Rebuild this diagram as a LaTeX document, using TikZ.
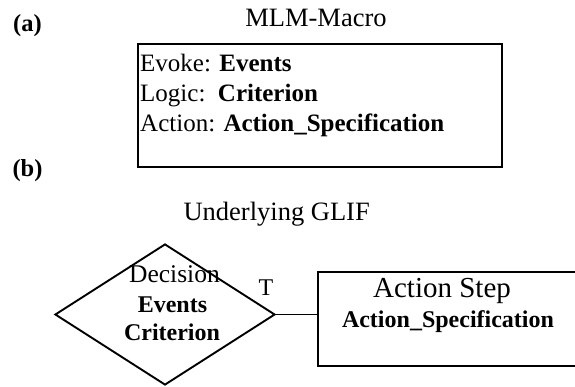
\documentclass[tikz,border=0pt]{standalone}
\usepackage{fontspec}
\setmainfont{Liberation Serif}
\usetikzlibrary{shapes.geometric}

\tikzset{
  frame/.style={draw=black, line width=1.9pt},
  txt/.style={inner sep=0pt, anchor=base, font=\fontsize{26.5}{30}\selectfont},
  boxtxt/.style={inner sep=0pt, anchor=base west, font=\fontsize{25}{30}\selectfont},
  boldtxt/.style={inner sep=0pt, anchor=base, font=\fontsize{24}{28}\selectfont\bfseries},
  lbl/.style={inner sep=0pt, anchor=base, font=\fontsize{24.5}{28}\selectfont\bfseries},
  link/.style={draw=black, line width=1.9pt}
}

\begin{document}
\begin{tikzpicture}[x=1pt, y=-1pt]
  \clip (0,0) rectangle (575,387);
  \fill[white] (0,0) rectangle (575,387);

  % panel labels
  \node[lbl] (pa) at (27.5,32) {(a)};
  \node[lbl] (pb) at (27.5,177) {(b)};

  % (a) MLM macro
  \node[txt] (mtitle) at (316,26.5) {MLM-Macro};
  \draw[frame] (138,44) rectangle (502,167);
  \node[boxtxt] (evoke)  at (140,72)  {Evoke: \textbf{Events}};
  \node[boxtxt] (logic)  at (140,102) {Logic:\ \ \textbf{Criterion}};
  \node[boxtxt] (action) at (140,132) {Action: \textbf{Action\_Specification}};

  % (b) underlying GLIF
  \node[txt, anchor=base east] (gtitle) at (370,221) {Underlying GLIF};

  \node[frame, diamond, minimum width=220pt, minimum height=141pt,
        inner sep=0pt] (dec) at (165,314.5) {};
  \node[txt, font=\fontsize{25.5}{30}\selectfont] (dname) at (174.5,282) {Decision};
  \node[boldtxt] (devt) at (172.5,312) {Events};
  \node[boldtxt] (dcrit) at (172,340) {Criterion};

  \node[frame, rectangle, minimum width=282pt, minimum height=94pt,
        inner sep=0pt] (act) at (459,319) {};
  \node[txt, font=\fontsize{29}{30}\selectfont] (aname) at (442,297.5) {Action Step};
  \node[boldtxt] (aspec) at (448,327) {Action\_Specification};

  \draw[link] (dec.east) -- (dec.east -| act.west);
  \node[txt, font=\fontsize{24}{28}\selectfont] (tlabel) at (266,295) {T};
\end{tikzpicture}
\end{document}
